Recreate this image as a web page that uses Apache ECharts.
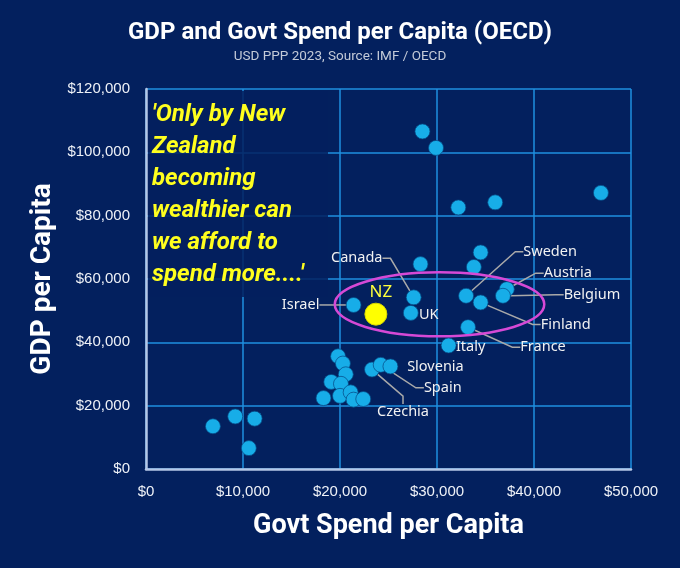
<!DOCTYPE html>
<html>
<head>
<meta charset="utf-8">
<script src="https://cdn.jsdelivr.net/npm/echarts@6/dist/echarts.min.js"></script>
<style>
html, body { margin: 0; padding: 0; background: #03205e; }
#main { width: 680px; height: 568px; }
</style>
</head>
<body>
<div id="main"></div>
<script>
// points, govt spend (x) and GDP (y), USD per capita
var countries = ['', '', '', '', '', '', '', '',
    'Canada', 'Sweden', 'Austria', 'Belgium', 'Finland', 'Israel', 'UK', 'France', 'Italy',
    '', '', '', '', '', '', '', '', '', '',
    'Czechia', 'Spain', 'Slovenia',
    '', '', '', '', 'NZ'];
var govtSpend = [28500, 29900, 46900, 32200, 36000, 34500, 33800, 28300,
    27600, 33000, 37200, 36800, 34500, 21400, 27300, 33200, 31200,
    19800, 20300, 20600, 19100, 20100, 18300, 20000, 21100, 21400, 22400,
    23300, 24200, 25200,
    6900, 9200, 11200, 10600, 23700];
var gdp = [106600, 101400, 87200, 82600, 84200, 68400, 63800, 64700,
    54200, 54700, 56800, 54700, 52600, 51800, 49300, 44800, 39000,
    35600, 33300, 29900, 27500, 26900, 22400, 23100, 24200, 21900, 22100,
    31400, 32900, 32400,
    13500, 16600, 15900, 6600, 48900];
var xMax = 50000, xStep = 10000;
var yMax = 120000, yStep = 20000;
var quote = "'Only by New\nZealand\nbecoming\nwealthier can\nwe afford to\nspend more....'";

// label offsets from the point centre
var labelOffset = {
    Canada: [-57, -39], Sweden: [84, -44], Austria: [61, -16], Belgium: [89, -1],
    Finland: [85, 22], France: [75, 20], Italy: [22, 1], UK: [18, 2],
    Israel: [-53, 0], NZ: [5, -22], Slovenia: [45, 0], Spain: [62, 23], Czechia: [31, 42]
};
var noLeader = ['UK', 'Italy', 'NZ', 'Slovenia'];

var money = function (v) { return '$' + v.toLocaleString('en-US'); };

var points = countries.map(function (name, i) {
    var item = { name: name, value: [govtSpend[i], gdp[i]] };
    if (!name) {
        item.label = { show: false };
        item.labelLine = { show: false };
    } else if (noLeader.indexOf(name) >= 0) {
        item.labelLine = { show: false };
    }
    if (name === 'NZ') {
        item.symbolSize = 22;
        item.itemStyle = { color: '#ffff00', borderColor: '#d6d600' };
        item.label = { color: '#ffff3c', fontSize: 17 };
    }
    return item;
});

var myChart = echarts.init(document.getElementById('main'));

myChart.setOption({
    backgroundColor: '#03205e',
    title: {
        text: 'GDP and Govt Spend per Capita (OECD)',
        subtext: 'USD PPP 2023, Source: IMF / OECD',
        left: 'center',
        top: 16,
        itemGap: 5,
        textStyle: { color: '#ffffff', fontSize: 24, fontWeight: 'bold', fontFamily: 'Roboto' },
        subtextStyle: { color: '#c3cad8', fontSize: 13.5, fontFamily: 'Roboto' }
    },
    grid: { left: 146, right: 49, top: 89, bottom: 99 },
    xAxis: {
        type: 'value', min: 0, max: xMax, interval: xStep,
        name: 'Govt Spend per Capita',
        nameLocation: 'middle',
        nameGap: 44,
        nameTextStyle: { color: '#ffffff', fontSize: 27, fontWeight: 'bold', fontFamily: 'Roboto' },
        axisLine: { lineStyle: { color: '#b5c6e6', width: 2.5 } },
        axisTick: { show: false },
        axisLabel: { color: '#eef1f7', fontSize: 15, margin: 15, fontFamily: 'Liberation Sans', formatter: money },
        splitLine: { lineStyle: { color: '#1f8fe0', width: 1.5 } }
    },
    yAxis: {
        type: 'value', min: 0, max: yMax, interval: yStep,
        name: 'GDP per Capita',
        nameLocation: 'middle',
        nameGap: 88,
        nameTextStyle: { color: '#ffffff', fontSize: 28, fontWeight: 'bold', fontFamily: 'Roboto' },
        axisLine: { show: true, lineStyle: { color: '#b5c6e6', width: 2.5 } },
        axisTick: { show: false },
        axisLabel: { color: '#eef1f7', fontSize: 15, margin: 16, fontFamily: 'Liberation Sans', formatter: money },
        splitLine: { lineStyle: { color: '#1f8fe0', width: 1.5 } }
    },
    series: [{
        type: 'scatter',
        symbolSize: 15,
        data: points,
        itemStyle: { color: '#17ade8', borderColor: 'rgba(5,70,130,0.7)', borderWidth: 1, opacity: 1 },
        label: {
            show: true,
            position: 'inside',
            formatter: '{b}',
            color: '#f2f2f2',
            fontSize: 14.5,
            fontFamily: 'Noto Sans'
        },
        labelLine: { show: true, length2: 8, lineStyle: { color: '#a9a9a9', width: 1.5 } },
        labelLayout: function (params) {
            var o = labelOffset[countries[params.dataIndex]];
            return o ? { dx: o[0], dy: o[1] } : {};
        },
        emphasis: { disabled: true }
    }]
});

// ring round the middle group, in data units
var ring = { x: 30260, y: 52000, rx: 10800, ry: 10100 };
var c = myChart.convertToPixel({ gridIndex: 0 }, [ring.x, ring.y]);
var e = myChart.convertToPixel({ gridIndex: 0 }, [ring.x + ring.rx, ring.y + ring.ry]);

myChart.setOption({
    graphic: [{
        type: 'rect',
        left: 148, top: 91,
        shape: { width: 180, height: 206 },
        style: { fill: 'rgba(3,32,94,0.85)' },
        z: 50
    }, {
        type: 'text',
        left: 152, top: 99,
        style: {
            text: quote,
            fill: '#ffff1e',
            fontSize: 24,
            fontWeight: 'bold',
            fontStyle: 'italic',
            fontFamily: 'Roboto',
            lineHeight: 32
        },
        z: 51
    }, {
        type: 'ellipse',
        shape: { cx: c[0], cy: c[1], rx: e[0] - c[0], ry: c[1] - e[1] },
        style: { fill: 'none', stroke: '#d649d6', lineWidth: 2.5 },
        z: 100
    }]
});
</script>
</body>
</html>
